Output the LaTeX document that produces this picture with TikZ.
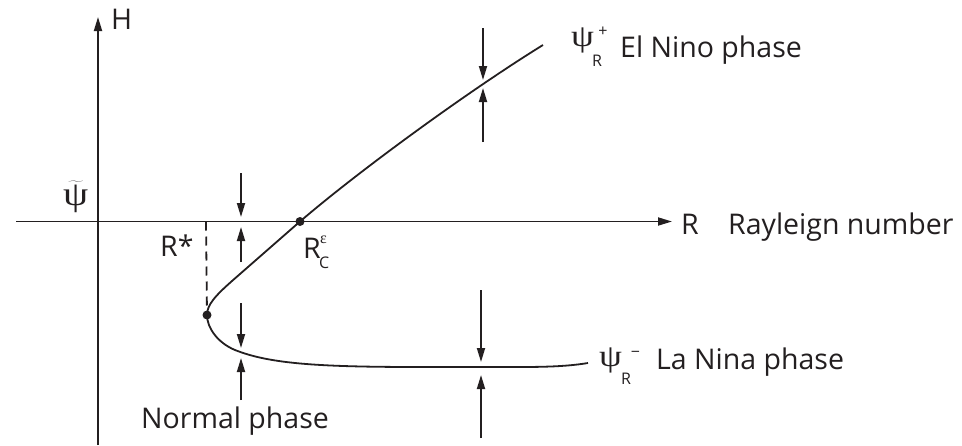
\documentclass[tikz,border=0pt]{standalone}
\usepackage{fontspec}
\setmainfont{Open Sans}
\newfontfamily\gk{Liberation Serif}
\usetikzlibrary{arrows.meta}
\definecolor{ink}{HTML}{231F20}
\newcommand{\wpsi}{\scalebox{1.18}[1]{ψ}}
\tikzset{
  ln/.style={line width=1.8pt, draw=ink},
  ax/.style={line width=1.8pt, draw=ink, -{Triangle[length=14pt,width=8pt]}},
  fl/.style={line width=1.8pt, draw=ink, -{Triangle[length=14pt,width=8pt]}},
  lbl/.style={inner sep=0pt, anchor=base west, text=ink, font=\fontsize{28.5}{32}\selectfont},
  sm/.style={inner sep=0pt, anchor=base west, text=ink, font=\fontsize{16}{18}\selectfont},
  smc/.style={inner sep=0pt, anchor=center, text=ink, font=\fontsize{16}{18}\selectfont},
  gr/.style={inner sep=0pt, anchor=base west, text=ink, font=\fontsize{31}{34}\gk},
  dot/.style={circle, fill=ink, inner sep=0pt, minimum size=9pt}
}
\begin{document}
\begin{tikzpicture}[x=1pt, y=-1pt]
\useasboundingbox (0,0) rectangle (962,445);
% axes
\coordinate (vb) at (98,445);
\coordinate (vt) at (98,17);
\coordinate (hl) at (16,221.5);
\coordinate (hr) at (672,221.5);
\draw[ax] (vb) -- (vt);
\draw[ax] (hl) -- (hr);
% points
\node[dot] (fold) at (207,315) {};
\node[dot] (rc) at (300,221.5) {};
\coordinate (rs) at (206,221.5);
\draw[ln, dashed, dash pattern=on 9pt off 6pt] (rs) -- (fold);
% branches
\coordinate (up1) at (232,281);
\coordinate (upend) at (543,45);
\coordinate (lo1) at (235,350);
\coordinate (lo2) at (420,367);
\coordinate (lo3) at (520,367);
\coordinate (loend) at (588,363);
\draw[ln] (fold.center) .. controls (207,305) and (215,296) .. (up1) -- (rc.center)
  .. controls (360,170) and (470,90) .. (upend);
\draw[ln] (fold.center) .. controls (207,328) and (218,343) .. (lo1)
  .. controls (270,364) and (320,367) .. (lo2) -- (lo3)
  .. controls (550,367) and (570,366) .. (loend);
% flow arrows
\coordinate (a1s) at (241,173); \coordinate (a1e) at (241,217);
\coordinate (a2s) at (241,262); \coordinate (a2e) at (241,227);
\coordinate (a3s) at (241,303); \coordinate (a3e) at (241,348);
\coordinate (a4s) at (241,400); \coordinate (a4e) at (241,358);
\coordinate (a5s) at (483,28);  \coordinate (a5e) at (483,80);
\coordinate (a6s) at (483,142); \coordinate (a6e) at (483,88);
\coordinate (a7s) at (481,290); \coordinate (a7e) at (481,362);
\coordinate (a8s) at (481,438); \coordinate (a8e) at (481,375);
\foreach \i in {1,...,8} \draw[fl] (a\i s) -- (a\i e);
% labels
\node[lbl] (H) at (111,29) {H};
\node[lbl] (R) at (681,234) {R};
\node[lbl] (ray) at (728,234) {Rayleign number};
\node[lbl] (rstar) at (160,256) {R*};
\node[lbl] (rce) at (303,258) {R};
\node[sm] (rcc) at (319,268) {C};
\node[smc] (rceps) at (323.5,240) {\gk ε};
\node[gr, font=\fontsize{34}{36}\gk] (psit) at (63,205) {$\widetilde{\mbox{\wpsi}}$};
\node[gr] (psip) at (571,46) {\wpsi};
\node[sm] (psipR) at (592,66) {R};
\node[smc] (psipp) at (603,31.5) {+};
\node[lbl] (elnino) at (620,57) {El Nino phase};
\node[gr] (psim) at (599,366) {\wpsi};
\node[sm] (psimR) at (621,384) {R};
\node[smc] (psimm) at (635.5,354) {−};
\node[lbl] (lanina) at (656,369) {La Nina phase};
\node[lbl] (normal) at (141,428) {Normal phase};
\end{tikzpicture}
\end{document}
